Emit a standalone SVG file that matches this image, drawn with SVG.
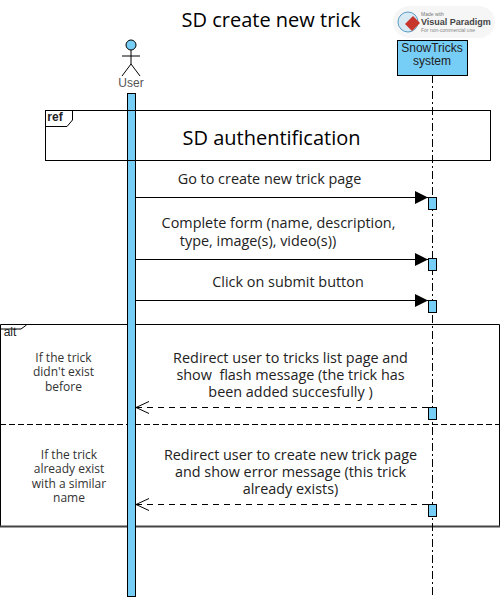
<svg xmlns="http://www.w3.org/2000/svg" width="500" height="597" viewBox="0 0 500 597">
<style>
text{font-family:"Open Sans","Noto Sans",sans-serif;fill:#222;text-anchor:middle}
.lab{font-size:14.4px}
.cond{font-size:12px;fill:#333}
.arial{font-family:"Liberation Sans",Arial,sans-serif}
.act{fill:#76cdf5;stroke:#000;stroke-width:1}
.frame{fill:none;stroke:#000;stroke-width:1}
.msg{fill:none;stroke:#000;stroke-width:1}
.ret{stroke-dasharray:6 5}
</style>
<defs>
<marker id="solid" markerUnits="userSpaceOnUse" markerWidth="14" markerHeight="14" refX="13" refY="7" orient="auto"><path d="M0 0.5L13 7L0 13.5Z" fill="#000"/></marker>
<marker id="open" markerUnits="userSpaceOnUse" markerWidth="15" markerHeight="15" refX="1" refY="7" orient="auto"><path d="M14 1L1 7L14 13" fill="none" stroke="#000"/></marker>
</defs>
<rect width="500" height="597" fill="#fff"/>
<text x="271" y="27" font-size="20" style="fill:#000">SD create new trick</text>
<g id="watermark">
<rect x="393" y="6" width="102" height="32" rx="16" fill="#f6f6f6"/>
<circle cx="408" cy="22" r="10" fill="#d8ebf5" stroke="#5a9cc5"/>
<path d="M413 16L420 23L412 31L405 24Z" fill="#c8352c"/>
<text x="421" y="16" font-size="5" class="arial" style="text-anchor:start;fill:#777">Made with</text>
<text x="421" y="25" font-size="9" font-weight="700" class="arial" style="text-anchor:start;fill:#444">Visual Paradigm</text>
<text x="421" y="32" font-size="5" class="arial" style="text-anchor:start;fill:#888">For non-commercial use</text>
</g>
<g id="alt-frame">
<path d="M0.500 526V324.500H499.500V526" class="frame"/>
<line x1="0" y1="526.500" x2="500" y2="526.500" stroke="#444" stroke-width="2"/>
<line x1="0" y1="424.500" x2="500" y2="424.500" stroke="#000" stroke-dasharray="6 3"/>
<path d="M0.500 329H21L26.500 325" class="frame"/>
<text x="10" y="336" font-size="12" class="arial" style="fill:#222">alt</text>
<text x="63.500" y="362" class="cond">If the trick</text>
<text x="63.500" y="376" class="cond">didn't exist</text>
<text x="63.500" y="391" class="cond">before</text>
<text x="69" y="459" class="cond">If the trick</text>
<text x="69" y="473" class="cond">already exist</text>
<text x="69" y="488" class="cond">with a similar</text>
<text x="69" y="502" class="cond">name</text>
</g>
<g id="system">
<line x1="432.500" y1="75" x2="432.500" y2="597" stroke="#000" stroke-dasharray="8 3 2 3"/>
<rect x="397.500" y="40.500" width="70" height="35" class="act"/>
<text x="432" y="52" font-size="12" class="arial" style="fill:#222">SnowTricks</text>
<text x="432" y="65" font-size="12" class="arial" style="fill:#222">system</text>
</g>
<g id="user">
<circle cx="131" cy="45" r="5" class="act"/>
<path d="M131 50V64M122 56H140M122 76L131 64L140 76" fill="none" stroke="#000"/>
<text x="131" y="87" font-size="12" class="arial" style="fill:#555">User</text>
<rect x="127.500" y="93.500" width="8" height="503" class="act"/>
</g>
<g id="ref-frame">
<rect x="45.500" y="110.500" width="445" height="50" class="frame"/>
<path d="M45.500 126.500H67L72.500 120V110.500" class="frame"/>
<text x="55" y="121" font-size="12" font-weight="700" class="arial" style="fill:#222">ref</text>
<text x="271.500" y="145" font-size="20" style="fill:#000">SD authentification</text>
</g>
<g id="connectors">
<line x1="135.500" y1="197.500" x2="428" y2="197.500" class="msg" marker-end="url(#solid)"/>
<line x1="135.500" y1="259.500" x2="428" y2="259.500" class="msg" marker-end="url(#solid)"/>
<line x1="135.500" y1="300.500" x2="428" y2="300.500" class="msg" marker-end="url(#solid)"/>
<line x1="136" y1="407.500" x2="428" y2="407.500" class="msg ret" marker-start="url(#open)"/>
<line x1="136" y1="504.500" x2="428" y2="504.500" class="msg ret" marker-start="url(#open)"/>
</g>
<g id="activations">
<rect x="428.500" y="197.500" width="8" height="12" class="act"/>
<rect x="428.500" y="258.500" width="8" height="12" class="act"/>
<rect x="428.500" y="300.500" width="8" height="12" class="act"/>
<rect x="428.500" y="407.500" width="8" height="12" class="act"/>
<rect x="428.500" y="504.500" width="8" height="12" class="act"/>
</g>
<g id="labels">
<text x="269.500" y="184" class="lab">Go to create new trick page</text>
<text x="278.500" y="228" class="lab">Complete form (name, description,</text>
<text x="258" y="246" class="lab">type, image(s), video(s))</text>
<text x="288" y="287" class="lab">Click on submit button</text>
<text x="290.500" y="363" class="lab">Redirect user to tricks list page and</text>
<text x="290.500" y="380" class="lab" xml:space="preserve">show  flash message (the trick has</text>
<text x="290.500" y="397" class="lab">been added succesfully )</text>
<text x="290.500" y="460" class="lab">Redirect user to create new trick page</text>
<text x="290.500" y="477" class="lab">and show error message (this trick</text>
<text x="290.500" y="494" class="lab">already exists)</text>
</g>
</svg>
